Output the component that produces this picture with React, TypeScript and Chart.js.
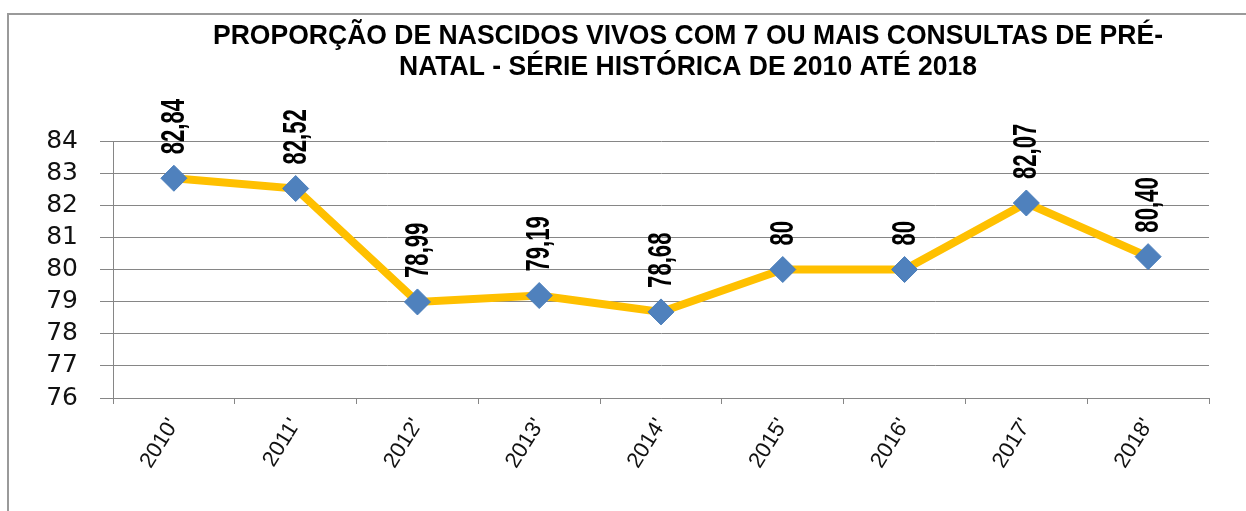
import React, { useEffect, useRef } from "react";
import { Chart, registerables } from "chart.js";

Chart.register(...registerables);

const titleLines = [
  "PROPORÇÃO DE NASCIDOS VIVOS COM 7 OU MAIS CONSULTAS DE PRÉ-",
  "NATAL - SÉRIE HISTÓRICA DE 2010 ATÉ 2018",
];
const categories = ["2010'", "2011'", "2012'", "2013'", "2014'", "2015'", "2016'", "2017'", "2018'"];
const values = [82.84, 82.52, 78.99, 79.19, 78.68, 80, 80, 82.07, 80.4];
const valueLabels = ["82,84", "82,52", "78,99", "79,19", "78,68", "80", "80", "82,07", "80,40"];
const yTicks = [76, 77, 78, 79, 80, 81, 82, 83, 84];

const titlePlugin = {
  id: "customTitle",
  afterDraw(chart: any) {
    const ctx = chart.ctx as CanvasRenderingContext2D;
    ctx.save();
    ctx.fillStyle = "#000";
    ctx.font = "bold 28px 'Liberation Sans', Arial, sans-serif";
    ctx.textAlign = "center";
    ctx.textBaseline = "alphabetic";
    const w1 = ctx.measureText(titleLines[0]).width;
    const sx = 950 / w1;
    const cx = 688;
    const baselines = [44, 75];
    titleLines.forEach((line, i) => {
      ctx.save();
      ctx.translate(cx, baselines[i]);
      ctx.scale(sx, 1);
      ctx.fillText(line, 0, 0);
      ctx.restore();
    });
    ctx.restore();
  },
};

const valueLabelPlugin = {
  id: "valueLabels",
  afterDatasetsDraw(chart: any) {
    const ctx = chart.ctx as CanvasRenderingContext2D;
    const meta = chart.getDatasetMeta(0);
    ctx.save();
    ctx.fillStyle = "#000";
    ctx.font = "bold 33px 'Liberation Sans', Arial, sans-serif";
    ctx.textAlign = "left";
    ctx.textBaseline = "middle";
    meta.data.forEach((pt: any, i: number) => {
      ctx.save();
      ctx.translate(pt.x + 1, pt.y - 24);
      ctx.scale(1, 0.67);
      ctx.rotate(-Math.PI / 2);
      ctx.fillText(valueLabels[i], 0, 0);
      ctx.restore();
    });
    ctx.restore();
  },
};

export default function App() {
  const ref = useRef<HTMLCanvasElement | null>(null);

  useEffect(() => {
    if (!ref.current) return;
    const chart = new Chart(ref.current, {
      type: "line",
      data: {
        labels: categories,
        datasets: [
          {
            data: values,
            borderColor: "#FFC000",
            borderWidth: 8,
            tension: 0,
            pointStyle: "rectRot",
            pointRadius: 13,
            pointBackgroundColor: "#4F81BD",
            pointBorderColor: "#4A7EBB",
            pointBorderWidth: 1,
          },
        ],
      },
      options: {
        responsive: false,
        animation: false,
        layout: { padding: { left: 0, right: 37, top: 141, bottom: 13 } },
        plugins: {
          legend: { display: false },
          title: { display: false },
          tooltip: { enabled: false },
        },
        scales: {
          x: {
            type: "category",
            offset: true,
            afterFit: (s: any) => {
              s.height = 100;
            },
            grid: {
              display: true,
              offset: true,
              drawOnChartArea: false,
              drawTicks: true,
              tickLength: 6,
              color: "#868686",
            },
            border: { display: true, color: "#868686", width: 1 },
            ticks: {
              autoSkip: false,
              minRotation: 58,
              maxRotation: 58,
              padding: 10,
              color: "#111",
              font: { family: "'Liberation Sans', Arial, sans-serif", size: 22 },
            },
          },
          y: {
            min: 76,
            max: 84,
            afterFit: (s: any) => {
              s.width = 113;
            },
            afterBuildTicks: (s: any) => {
              s.ticks = yTicks.map((v) => ({ value: v }));
            },
            grid: {
              color: "#868686",
              lineWidth: 1,
              drawTicks: true,
              tickLength: 13,
            },
            border: { display: true, color: "#868686", width: 1 },
            ticks: {
              autoSkip: false,
              stepSize: 1,
              padding: 22,
              color: "#111",
              font: { family: "'DejaVu Sans', sans-serif", size: 25 },
            },
          },
        },
      },
      plugins: [titlePlugin, valueLabelPlugin],
    });
    return () => chart.destroy();
  }, []);

  return (
    <div style={{ position: "absolute", left: 0, top: 0, width: 1246, height: 511, background: "#fff" }}>
      <div
        style={{
          position: "absolute",
          left: 7,
          top: 13,
          right: 0,
          bottom: 0,
          borderLeft: "2px solid #9a9a9a",
          borderTop: "2px solid #9a9a9a",
        }}
      />
      <canvas ref={ref} width={1246} height={511} style={{ position: "absolute", left: 0, top: 0 }} />
    </div>
  );
}
